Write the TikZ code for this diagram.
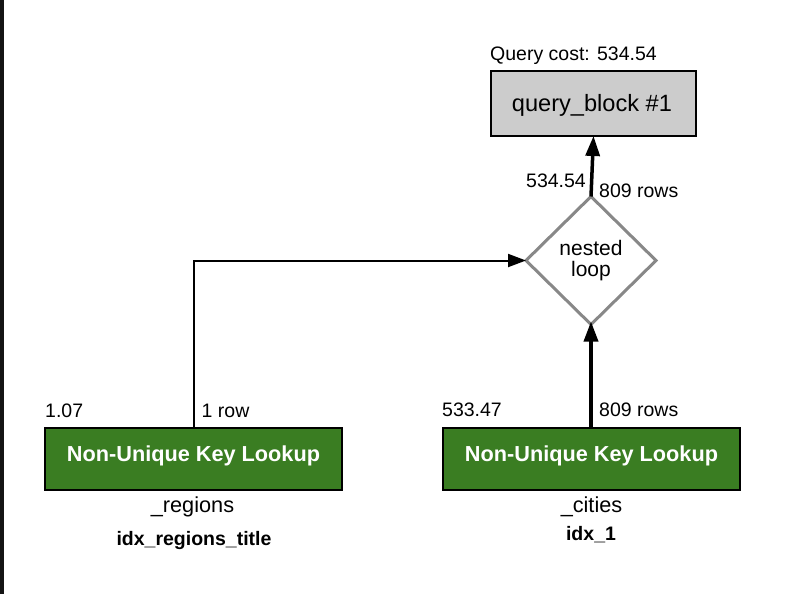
\documentclass[tikz,border=0pt]{standalone}
\usepackage{fontspec}
\setmainfont{Liberation Sans}
\usetikzlibrary{shapes.geometric,arrows.meta}
\definecolor{lookupgreen}{RGB}{58,125,34}
\definecolor{qbgray}{RGB}{204,204,204}
\definecolor{diagray}{RGB}{136,136,136}
\definecolor{edgedark}{RGB}{20,20,20}
\tikzset{
  lookup/.style={draw=black, line width=2pt, fill=lookupgreen, minimum width=297pt, minimum height=62pt, inner sep=0pt, outer sep=0pt},
  lookuptext/.style={anchor=base, text=white, font=\bfseries\fontsize{21.7}{24}\selectfont, inner sep=0pt},
  qbox/.style={draw=black, line width=2pt, fill=qbgray, minimum width=205pt, minimum height=65pt, inner sep=0pt, outer sep=0pt},
  joindia/.style={diamond, draw=diagray, line width=3pt, minimum width=130pt, minimum height=128pt, inner sep=0pt, outer sep=0pt},
  lbl/.style={font=\fontsize{19.5}{22}\selectfont, inner sep=0pt},
  tbl/.style={font=\fontsize{21.7}{24}\selectfont, inner sep=0pt, anchor=base},
  idx/.style={font=\bfseries\fontsize{19.5}{22}\selectfont, inner sep=0pt, anchor=base},
  thickflow/.style={line width=3.5pt, -{Triangle[length=20pt, width=14pt]}},
  thinflow/.style={line width=2pt, -{Triangle[length=18pt, width=13pt]}},
}
\begin{document}
\begin{tikzpicture}[x=1pt,y=-1pt]
\useasboundingbox (0,0) rectangle (790,594);
\fill[edgedark] (0,0) rectangle (3.5,594);

% query block
\node[qbox] (qb) at (593.5,103.5) {};
\node[anchor=base, inner sep=0pt, font=\fontsize{23.6}{26}\selectfont] (qbt) at (592,111) {query\_block \#1};
\node[lbl, anchor=base west] (qcost) at (490,61) {Query cost: 534.54};

% nested loop
\node[joindia] (nl) at (591,260.5) {};
\node[inner sep=0pt, align=center, font=\fontsize{21}{21}\selectfont] (nlt) at (591,261) {nested\\loop};

% lookups
\node[lookup] (reg) at (193.5,459) {};
\node[lookuptext] (regt) at (193.5,461.7) {Non-Unique Key Lookup};
\node[lookup] (cit) at (591.5,459) {};
\node[lookuptext] (citt) at (591.5,461.7) {Non-Unique Key Lookup};

% labels
\node[lbl, anchor=base east] (c1) at (586,187) {534.54};
\node[lbl, anchor=base west] (r1) at (599,197) {809 rows};
\node[lbl, anchor=base west] (c2) at (45,417) {1.07};
\node[lbl, anchor=base west] (r2) at (201.5,417) {1 row};
\node[lbl, anchor=base west] (c3) at (442,416) {533.47};
\node[lbl, anchor=base west] (r3) at (599,416) {809 rows};

\node[tbl] (regtab) at (192.5,512) {\_regions};
\node[idx] (regidx) at (194,545) {idx\_regions\_title};
\node[tbl] (cittab) at (591.5,512.5) {\_cities};
\node[idx] (citidx) at (591,540.5) {idx\_1};

% connectors
\draw[thickflow] (nl.north) -- (qb.south);
\draw[thickflow] (cit.north -| nl.south) -- ([yshift=3pt]nl.south);
\draw[thinflow] (reg.north) |- (nl.west);
\end{tikzpicture}
\end{document}
